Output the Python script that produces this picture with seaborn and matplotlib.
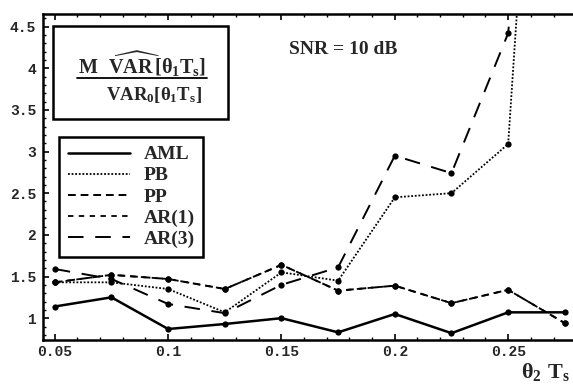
import numpy as np
import pandas as pd
import matplotlib
matplotlib.use("Agg")
import matplotlib.pyplot as plt
import seaborn as sns
from matplotlib.lines import Line2D
from matplotlib.patches import Rectangle
from matplotlib.ticker import MultipleLocator

# ---- data ----
theta2_Ts = [0.05, 0.075, 0.1, 0.125, 0.15, 0.175, 0.2, 0.225, 0.25, 0.275]
aml = [1.14, 1.25, 0.87, 0.93, 1.00, 0.83, 1.05, 0.82, 1.07, 1.07]
pb = [1.43, 1.43, 1.35, 1.07, 1.55, 1.45, 2.45, 2.50, 3.09, 13.3]
pp = [1.43, 1.52, 1.47, 1.35, 1.64, 1.33, 1.39, 1.18, 1.34, 0.94]
ar1 = [1.43, 1.52, 1.47, 1.35, 1.64, 1.33, 1.39, 1.18, 1.34, 0.94]
ar3 = [1.59, 1.47, 1.17, 1.06, 1.40, 1.61, 2.95, 2.74, 4.42, 11.8]
series_names = ["AML", "PB", "PP", "AR(1)", "AR(3)"]
x_ticks = [0.05, 0.1, 0.15, 0.2, 0.25]
y_ticks = [1, 1.5, 2, 2.5, 3, 3.5, 4, 4.5]

styles = {
    "AML": dict(linestyle="-", linewidth=1.8),
    "PB": dict(linestyle=(0, (1.0, 1.0)), linewidth=1.3),
    "PP": dict(linestyle=(0, (4, 2.5)), linewidth=1.4),
    "AR(1)": dict(linestyle=(0, (3.0, 3.0)), linewidth=1.3),
    "AR(3)": dict(linestyle=(0, (8, 6)), linewidth=1.4),
}

df = pd.DataFrame({
    "x": theta2_Ts * 5,
    "y": aml + pb + pp + ar1 + ar3,
    "series": sum([[n] * len(theta2_Ts) for n in series_names], []),
})

sns.set_style("white")
plt.rcParams["font.family"] = ["Liberation Serif", "DejaVu Serif"]
plt.rcParams["mathtext.fontset"] = "custom"
plt.rcParams["mathtext.rm"] = "Liberation Serif:bold"
plt.rcParams["mathtext.it"] = "Liberation Serif:bold"
plt.rcParams["mathtext.bf"] = "Liberation Serif:bold"

fig = plt.figure(figsize=(5.73, 3.85), dpi=100)
ax = fig.add_axes([43 / 573, 1 - 339.5 / 385, 1 - 43 / 573, (339.5 - 14) / 385])

for name in series_names:
    sub = df[df["series"] == name]
    sns.lineplot(data=sub, x="x", y="y", ax=ax, color="black", marker="o",
                 markersize=4.5, markeredgewidth=0, estimator=None, sort=False,
                 legend=False, **styles[name])

ax.set_xlim(0.0448, 0.2786)
ax.set_ylim(0.744, 4.65)
ax.set_xticks(x_ticks)
ax.set_xticklabels([f"{v:g}" for v in x_ticks])
ax.set_yticks(y_ticks)
ax.set_yticklabels([f"{v:g}" for v in y_ticks])
ax.xaxis.set_minor_locator(MultipleLocator(0.01))
ax.yaxis.set_minor_locator(MultipleLocator(0.1))
ax.tick_params(which="both", direction="in", top=True, right=False,
               left=True, bottom=True, color="black")
ax.tick_params(which="major", length=4, width=1.2)
ax.tick_params(which="minor", length=2, width=1)
for lab in ax.get_xticklabels() + ax.get_yticklabels():
    lab.set_family("Liberation Mono")
    lab.set_weight("bold")
    lab.set_fontsize(10.5)
ax.tick_params(axis="x", pad=4)
ax.tick_params(axis="y", pad=5)
ax.set_xlabel("")
ax.set_ylabel("")
for s in ["left", "bottom", "top"]:
    ax.spines[s].set_linewidth(1.8)
    ax.spines[s].set_color("black")
ax.spines["right"].set_visible(False)

# formula box
fw, fh = 573.0, 385.0
fig.patches.append(Rectangle((53 / fw, 1 - 119 / fh), (228 - 53) / fw, (119 - 26) / fh,
                             transform=fig.transFigure, fill=False,
                             edgecolor="black", linewidth=1.8))
fig.text(142 / fw, 1 - 64 / fh, r"$\mathrm{M}\ \ \widehat{\mathrm{VAR}}\,[\theta_1 \mathrm{T_s}]$",
         ha="center", va="center", fontsize=14.5)
fig.add_artist(Line2D([77 / fw, 207 / fw], [1 - 78 / fh, 1 - 78 / fh],
                      transform=fig.transFigure, color="black", linewidth=1.3))
fig.text(154 / fw, 1 - 95 / fh, r"$\mathrm{VAR_0}[\theta_1 \mathrm{T_s}]$",
         ha="center", va="center", fontsize=13.5)

# legend
handles = [Line2D([], [], color="black", **styles[n]) for n in series_names]
leg = ax.legend(handles, series_names, loc="upper left",
                bbox_to_anchor=(59 / fw, 1 - 137 / fh), bbox_transform=fig.transFigure,
                frameon=True, fancybox=False, framealpha=1, edgecolor="black",
                prop={"family": "Liberation Serif", "weight": "bold", "size": 14},
                handlelength=3.2, handletextpad=0.7, labelspacing=0.18,
                borderpad=0.45, borderaxespad=0)
leg.get_frame().set_linewidth(1.8)

fig.text(289 / fw, 1 - 50 / fh, "SNR = 10 dB", ha="left", va="center",
         fontsize=14, fontweight="bold")
fig.text(545 / fw, 1 - 372 / fh, r"$\theta_2\ \mathrm{T_s}$", ha="center",
         va="center", fontsize=16)

fig.savefig("out.png", dpi=100)
